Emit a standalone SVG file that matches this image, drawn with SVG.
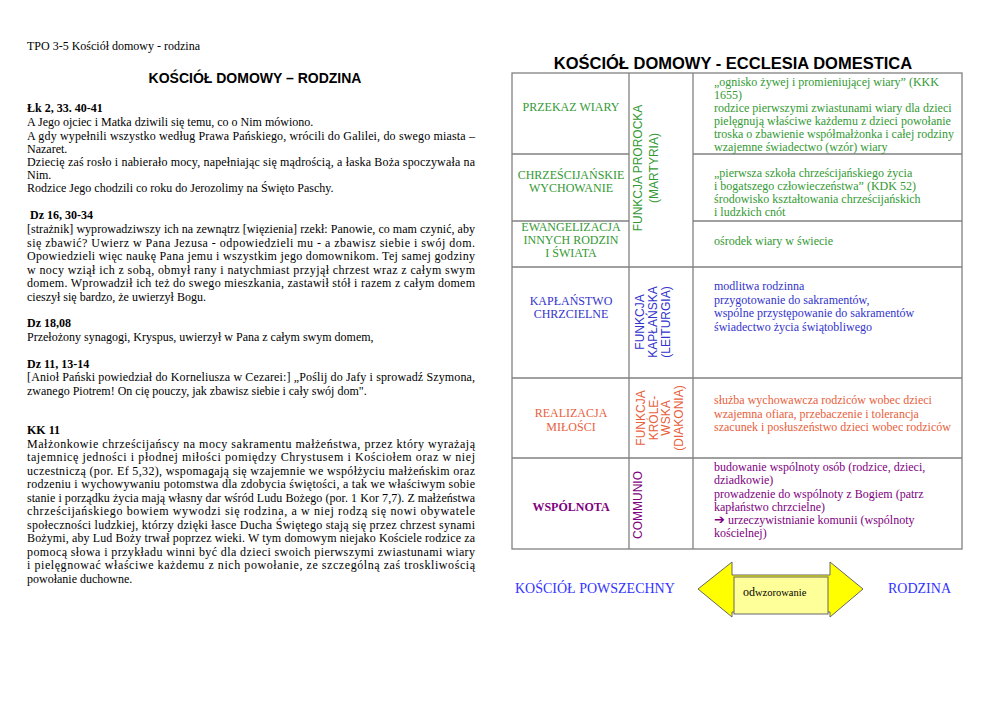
<svg xmlns="http://www.w3.org/2000/svg" width="992" height="701" viewBox="0 0 992 701">
<style>
.t{font-family:"Liberation Serif","Times New Roman",serif;font-size:12px;fill:#000}
.b{font-weight:bold}
.h{font-family:"Liberation Sans",Arial,sans-serif;font-weight:bold;fill:#000}
.v{font-family:"Liberation Sans",Arial,sans-serif;font-size:12px;text-anchor:middle}
.c{text-anchor:middle}
.g{fill:#339933}
.bl{fill:#3333cc}
.o{fill:#e8603c}
.p{fill:#800080}
.big{font-size:14px;fill:#3333ff}
.grid{stroke:#808080;stroke-width:1.3;fill:none}
</style>
<rect width="992" height="701" fill="#fff"/>

<g id="left-page">
<text class="t" x="27" y="50" font-size="9.5">TPO 3-5 Kościół domowy - rodzina</text>
<text class="h" x="255" y="83" font-size="14" text-anchor="middle">KOŚCIÓŁ DOMOWY – RODZINA</text>

<text class="t b" x="27" y="112">Łk 2, 33. 40-41</text>
<text class="t" x="27" y="126">A Jego ojciec i Matka dziwili się temu, co o Nim mówiono.</text>
<text class="t" x="27" y="139.5" textLength="448" lengthAdjust="spacing">A gdy wypełnili wszystko według Prawa Pańskiego, wrócili do Galilei, do swego miasta –</text>
<text class="t" x="27" y="152.5">Nazaret.</text>
<text class="t" x="27" y="165.5" textLength="448" lengthAdjust="spacing">Dziecię zaś rosło i nabierało mocy, napełniając się mądrością, a łaska Boża spoczywała na</text>
<text class="t" x="27" y="178.5">Nim.</text>
<text class="t" x="27" y="191.5">Rodzice Jego chodzili co roku do Jerozolimy na Święto Paschy.</text>

<text class="t b" x="30" y="219">Dz 16, 30-34</text>
<text class="t" x="27" y="233" textLength="448" lengthAdjust="spacing">[strażnik] wyprowadziwszy ich na zewnątrz [więzienia] rzekł: Panowie, co mam czynić, aby</text>
<text class="t" x="27" y="246.5" textLength="448" lengthAdjust="spacing">się zbawić? Uwierz w Pana Jezusa - odpowiedzieli mu - a zbawisz siebie i swój dom.</text>
<text class="t" x="27" y="260" textLength="448" lengthAdjust="spacing">Opowiedzieli więc naukę Pana jemu i wszystkim jego domownikom. Tej samej godziny</text>
<text class="t" x="27" y="273.5" textLength="448" lengthAdjust="spacing">w nocy wziął ich z sobą, obmył rany i natychmiast przyjął chrzest wraz z całym swym</text>
<text class="t" x="27" y="287" textLength="448" lengthAdjust="spacing">domem. Wprowadził ich też do swego mieszkania, zastawił stół i razem z całym domem</text>
<text class="t" x="27" y="300.5">cieszył się bardzo, że uwierzył Bogu.</text>

<text class="t b" x="27" y="327">Dz 18,08</text>
<text class="t" x="27" y="340.5">Przełożony synagogi, Kryspus, uwierzył w Pana z całym swym domem,</text>

<text class="t b" x="27" y="367.5">Dz 11, 13-14</text>
<text class="t" x="27" y="381" textLength="448" lengthAdjust="spacing">[Anioł Pański powiedział do Korneliusza w Cezarei:] „Poślij do Jafy i sprowadź Szymona,</text>
<text class="t" x="27" y="394.5">zwanego Piotrem! On cię pouczy, jak zbawisz siebie i cały swój dom".</text>

<text class="t b" x="27" y="434">KK 11</text>
<text class="t" x="27" y="447.5" textLength="448" lengthAdjust="spacing">Małżonkowie chrześcijańscy na mocy sakramentu małżeństwa, przez który wyrażają</text>
<text class="t" x="27" y="461" textLength="448" lengthAdjust="spacing">tajemnicę jedności i płodnej miłości pomiędzy Chrystusem i Kościołem oraz w niej</text>
<text class="t" x="27" y="474.5" textLength="448" lengthAdjust="spacing">uczestniczą (por. Ef 5,32), wspomagają się wzajemnie we współżyciu małżeńskim oraz</text>
<text class="t" x="27" y="488" textLength="448" lengthAdjust="spacing">rodzeniu i wychowywaniu potomstwa dla zdobycia świętości, a tak we właściwym sobie</text>
<text class="t" x="27" y="501.5" textLength="448" lengthAdjust="spacing">stanie i porządku życia mają własny dar wśród Ludu Bożego (por. 1 Kor 7,7). Z małżeństwa</text>
<text class="t" x="27" y="515" textLength="448" lengthAdjust="spacing">chrześcijańskiego bowiem wywodzi się rodzina, a w niej rodzą się nowi obywatele</text>
<text class="t" x="27" y="528.5" textLength="448" lengthAdjust="spacing">społeczności ludzkiej, którzy dzięki łasce Ducha Świętego stają się przez chrzest synami</text>
<text class="t" x="27" y="542" textLength="448" lengthAdjust="spacing">Bożymi, aby Lud Boży trwał poprzez wieki. W tym domowym niejako Kościele rodzice za</text>
<text class="t" x="27" y="555.5" textLength="448" lengthAdjust="spacing">pomocą słowa i przykładu winni być dla dzieci swoich pierwszymi zwiastunami wiary</text>
<text class="t" x="27" y="569" textLength="448" lengthAdjust="spacing">i pielęgnować właściwe każdemu z nich powołanie, ze szczególną zaś troskliwością</text>
<text class="t" x="27" y="582.5">powołanie duchowne.</text>
</g>

<g id="right-title">
<text class="h" x="733" y="69" font-size="16.5" text-anchor="middle">KOŚCIÓŁ DOMOWY - ECCLESIA DOMESTICA</text>
</g>

<g id="table-grid">
<rect class="grid" x="512" y="73" width="450" height="476"/>
<line class="grid" x1="629" y1="73" x2="629" y2="549"/>
<line class="grid" x1="693" y1="73" x2="693" y2="549"/>
<line class="grid" x1="512" y1="154" x2="629" y2="154"/>
<line class="grid" x1="693" y1="154" x2="962" y2="154"/>
<line class="grid" x1="512" y1="221" x2="629" y2="221"/>
<line class="grid" x1="693" y1="221" x2="962" y2="221"/>
<line class="grid" x1="512" y1="267" x2="962" y2="267"/>
<line class="grid" x1="512" y1="378" x2="962" y2="378"/>
<line class="grid" x1="512" y1="458" x2="962" y2="458"/>
</g>

<g id="funkcja-prorocka">
<text class="v g" transform="rotate(-90 642 168)" x="642" y="168">FUNKCJA PROROCKA</text>
<text class="v g" transform="rotate(-90 658 168)" x="658" y="168">(MARTYRIA)</text>
</g>

<g id="row-przekaz-wiary">
<text class="t g c" x="571" y="111">PRZEKAZ  WIARY</text>
<text class="t g" x="714" y="86">„ognisko żywej i promieniującej wiary” (KKK</text>
<text class="t g" x="714" y="99">1655)</text>
<text class="t g" x="714" y="112">rodzice pierwszymi zwiastunami wiary dla dzieci</text>
<text class="t g" x="714" y="125">pielęgnują właściwe każdemu z dzieci powołanie</text>
<text class="t g" x="714" y="138">troska o zbawienie współmałżonka i całej rodziny</text>
<text class="t g" x="714" y="151">wzajemne świadectwo (wzór) wiary</text>
</g>

<g id="row-wychowanie">
<text class="t g c" x="571" y="179">CHRZEŚCIJAŃSKIE</text>
<text class="t g c" x="571" y="192">WYCHOWANIE</text>
<text class="t g" x="714" y="177">„pierwsza szkoła chrześcijańskiego życia</text>
<text class="t g" x="714" y="190">i bogatszego człowieczeństwa” (KDK 52)</text>
<text class="t g" x="714" y="203">środowisko kształtowania chrześcijańskich</text>
<text class="t g" x="714" y="216">i ludzkich cnót</text>
</g>

<g id="row-ewangelizacja">
<text class="t g c" x="571" y="231">EWANGELIZACJA</text>
<text class="t g c" x="571" y="244">INNYCH RODZIN</text>
<text class="t g c" x="571" y="257">I  ŚWIATA</text>
<text class="t g" x="714" y="245">ośrodek wiary w świecie</text>
</g>

<g id="row-kaplanstwo">
<text class="t bl c" x="571" y="305">KAPŁAŃSTWO</text>
<text class="t bl c" x="571" y="318">CHRZCIELNE</text>
<text class="v bl" transform="rotate(-90 644 322)" x="644" y="322">FUNKCJA</text>
<text class="v bl" transform="rotate(-90 657 322)" x="657" y="322">KAPŁAŃSKA</text>
<text class="v bl" transform="rotate(-90 670 322)" x="670" y="322">(LEITURGIA)</text>
<text class="t bl" x="714" y="290">modlitwa rodzinna</text>
<text class="t bl" x="714" y="303.5">przygotowanie do sakramentów,</text>
<text class="t bl" x="714" y="317">wspólne przystępowanie do sakramentów</text>
<text class="t bl" x="714" y="330.5">świadectwo życia świątobliwego</text>
</g>

<g id="row-realizacja">
<text class="t o c" x="571" y="417">REALIZACJA</text>
<text class="t o c" x="571" y="431">MIŁOŚCI</text>
<text class="v o" transform="rotate(-90 645 418)" x="645" y="418">FUNKCJA</text>
<text class="v o" transform="rotate(-90 657.5 418)" x="657.5" y="418">KRÓLE-</text>
<text class="v o" transform="rotate(-90 670 418)" x="670" y="418">WSKA</text>
<text class="v o" transform="rotate(-90 682.5 418)" x="682.5" y="418">(DIAKONIA)</text>
<text class="t o" x="714" y="404">służba wychowawcza rodziców wobec dzieci</text>
<text class="t o" x="714" y="417.5">wzajemna ofiara, przebaczenie i tolerancja</text>
<text class="t o" x="714" y="431">szacunek i posłuszeństwo dzieci wobec rodziców</text>
</g>

<g id="row-wspolnota">
<text class="t p b c" x="571" y="511">WSPÓLNOTA</text>
<text class="v p" transform="rotate(-90 642 505)" x="642" y="505">COMMUNIO</text>
<text class="t p" x="714" y="471">budowanie wspólnoty osób (rodzice, dzieci,</text>
<text class="t p" x="714" y="484">dziadkowie)</text>
<text class="t p" x="714" y="497.5">prowadzenie do wspólnoty z Bogiem (patrz</text>
<text class="t p" x="714" y="510.5">kapłaństwo chrzcielne)</text>
<text class="t p" x="714" y="524"><tspan font-family="DejaVu Sans, sans-serif" font-size="13" font-weight="bold">➔</tspan> urzeczywistnianie komunii (wspólnoty</text>
<text class="t p" x="714" y="537">kościelnej)</text>
</g>

<g id="kosciol-powszechny">
<text class="t big" x="515" y="593">KOŚCIÓŁ POWSZECHNY</text>
</g>

<g id="connectors">
<polygon points="698,589 732,562 732,575 830,575 830,562 863,589 830,617 830,612 732,612 732,617" fill="#ffff00" stroke="#666" stroke-width="1"/>
</g>

<g id="odwzorowanie">
<rect x="734" y="577" width="94" height="37" fill="#ffff99" stroke="#666" stroke-width="1"/>
<text class="t" x="743" y="596" font-size="14.5">od<tspan font-size="10.5">wzorowanie</tspan></text>
</g>

<g id="rodzina">
<text class="t big" x="888" y="593">RODZINA</text>
</g>
</svg>
